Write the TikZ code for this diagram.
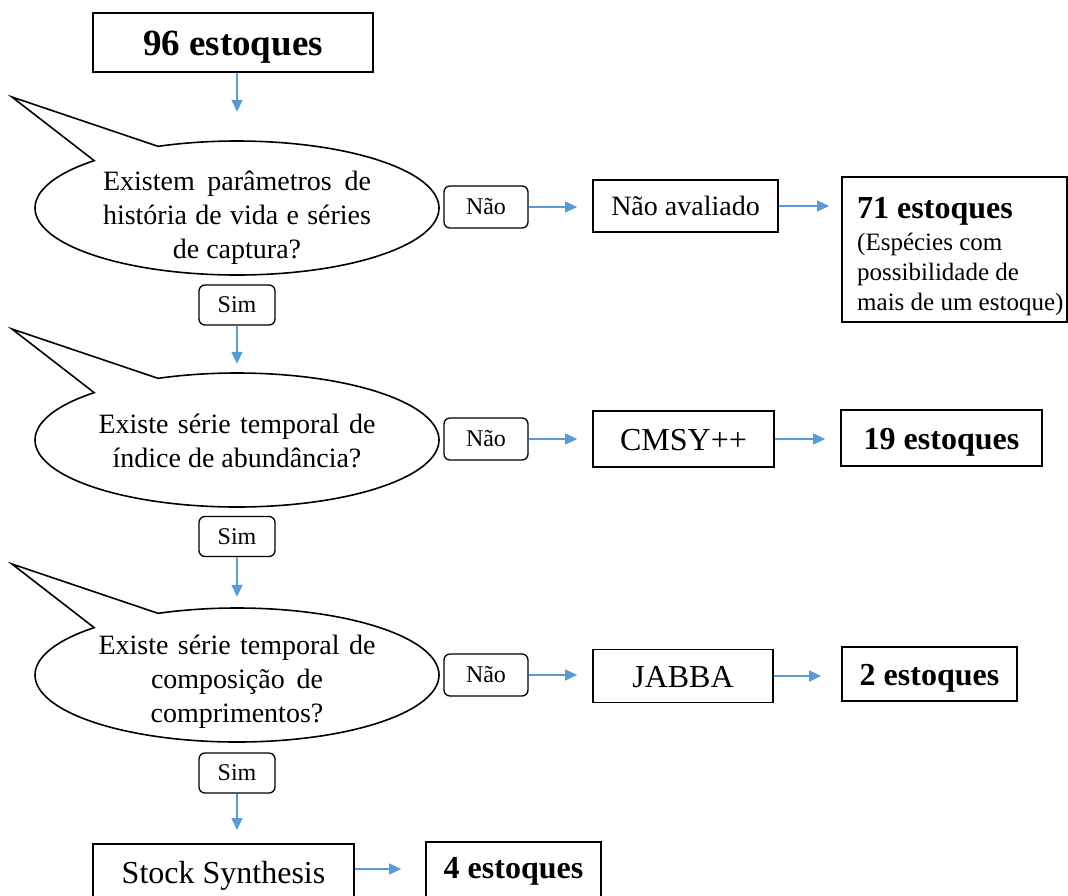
\documentclass[tikz,border=0pt]{standalone}
\usepackage{fontspec}
\setmainfont{Liberation Serif}
\usetikzlibrary{arrows.meta,shapes.geometric}
\definecolor{arrblue}{RGB}{91,155,213}
\begin{document}
\begin{tikzpicture}[x=1pt,y=1pt,
  box/.style={draw=black,line width=1.6pt,fill=white,inner sep=0pt,align=center,text depth=0pt},
  small/.style={draw=black,line width=1.3pt,rounded corners=6pt,inner sep=0pt,minimum width=76pt,minimum height=40pt,font=\fontsize{24}{28}\selectfont},
  nao/.style={small,minimum width=84pt,minimum height=42pt},
  arr/.style={draw=arrblue,line width=1.5pt,-{Triangle[length=12pt,width=11pt]}},
  bub/.style={ellipse,draw=none,minimum width=404pt,minimum height=134pt,inner sep=0pt},
  bubline/.style={draw=black,line width=1.6pt,fill=white},
  qtext/.style={anchor=base,inner sep=0pt,font=\fontsize{28}{34}\selectfont},
  big/.style={font=\bfseries\fontsize{32}{38}\selectfont,text height=22pt},
  norm/.style={font=\fontsize{32}{38}\selectfont,text height=22pt}
]
\useasboundingbox (0,0) rectangle (1068,-895);
\clip (0,0) rectangle (1068,-895);

% top box
\node[box,minimum width=280pt,minimum height=59pt,font=\bfseries\fontsize{37}{44}\selectfont,text height=26pt] (b96) at (233,-42.5) {96 estoques};

% callout 1
\node[bub] (q1) at (237,-208) {};
\draw[bubline] (12,-97) -- ([shift={(135:202pt and 67pt)}]q1.center) arc[start angle=135,end angle=473,x radius=202pt,y radius=67pt] -- cycle;
\node[qtext] (q1t) at (237,-190) {\begin{tabular}[t]{@{}c@{}}\makebox[268pt][s]{Existem parâmetros de}\\ \makebox[268pt][s]{história de vida e séries}\\ de captura?\end{tabular}};

% callout 2
\node[bub] (q2) at (237,-440) {};
\draw[bubline] (12,-329) -- ([shift={(135:202pt and 67pt)}]q2.center) arc[start angle=135,end angle=473,x radius=202pt,y radius=67pt] -- cycle;
\node[qtext] (q2t) at (237,-433) {\begin{tabular}[t]{@{}c@{}}\makebox[277pt][s]{Existe série temporal de}\\ índice de abundância?\end{tabular}};

% callout 3
\node[bub] (q3) at (237,-675) {};
\draw[bubline] (12,-564) -- ([shift={(135:202pt and 67pt)}]q3.center) arc[start angle=135,end angle=473,x radius=202pt,y radius=67pt] -- cycle;
\node[qtext] (q3t) at (237,-654) {\begin{tabular}[t]{@{}c@{}}\makebox[277pt][s]{Existe série temporal de}\\ \makebox[172pt][s]{composição de}\\ comprimentos?\end{tabular}};

% Sim boxes
\node[small] (s1) at (237,-305) {Sim};
\node[small] (s2) at (237,-536.5) {Sim};
\node[small] (s3) at (237,-773) {Sim};

% Nao boxes
\node[nao] (n1) at (486,-207) {Não};
\node[nao] (n2) at (486,-439) {Não};
\node[nao] (n3) at (486,-675) {Não};

% row 1
\node[box,minimum width=185pt,minimum height=52pt,font=\fontsize{28}{34}\selectfont,text height=19pt] (na) at (685.5,-206) {Não avaliado};
\node[box,minimum width=225pt,minimum height=145pt] (b71) at (954.5,-249.5) {};
\node[anchor=base west,inner sep=0pt,font=\fontsize{25}{30}\selectfont] (b71t) at (857,-218) {\begin{tabular}[t]{@{}l@{}}{\bfseries\fontsize{32}{38}\selectfont 71 estoques}\\[2pt] (Espécies com\\ possibilidade de\\ mais de um estoque)\end{tabular}};

% row 2
\node[box,norm,minimum width=181pt,minimum height=56pt] (cm) at (683.5,-439) {CMSY++};
\node[box,big,minimum width=201pt,minimum height=56pt] (b19) at (941.5,-438) {19 estoques};

% row 3
\node[box,norm,minimum width=180pt,minimum height=53pt] (jb) at (683,-676) {JABBA};
\node[box,big,minimum width=175pt,minimum height=54pt] (b2) at (929.5,-674) {2 estoques};

% bottom
\node[box,norm,anchor=north,minimum width=261pt,inner ysep=18pt,text height=22pt,text depth=30pt] (ss) at (223.5,-843) {Stock Synthesis};
\node[box,big,anchor=north,minimum width=175pt,inner ysep=15pt,text height=22pt,text depth=40pt] (b4) at (513.5,-841) {4 estoques};
\coordinate (rs) at (0,-869);

% vertical arrows
\draw[arr,shorten >=29pt] (b96.south -| q1.north) -- (q1.north);
\draw[arr,shorten >=9pt] (s1.south) -- (q2.north);
\draw[arr,shorten >=11pt] (s2.south) -- (q3.north);
\draw[arr,shorten >=13pt] (s3.south) -- (s3.south |- ss.north);

% horizontal arrows
\draw[arr,shorten >=15pt] (n1.east) -- (n1.east -| na.west);
\draw[arr,shorten >=12pt] (na.east) -- (na.east -| b71.west);
\draw[arr,shorten >=15pt] (n2.east) -- (n2.east -| cm.west);
\draw[arr,shorten >=15pt] (cm.east) -- (cm.east -| b19.west);
\draw[arr,shorten >=15pt] (n3.east) -- (n3.east -| jb.west);
\draw[arr,shorten >=20pt] (jb.east) -- (jb.east -| b2.west);
\draw[arr,shorten >=24pt] (ss.east |- rs) -- (b4.west |- rs);
\end{tikzpicture}
\end{document}
